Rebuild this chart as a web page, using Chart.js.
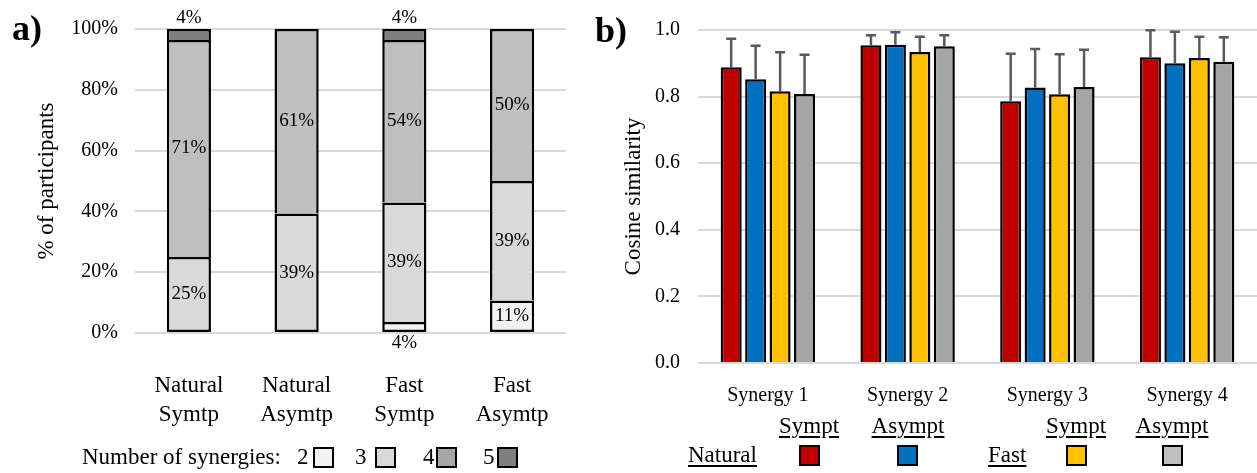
<!DOCTYPE html>
<html>
<head>
<meta charset="utf-8">
<script src="https://cdn.jsdelivr.net/npm/chart.js@4/dist/chart.umd.min.js"></script>
<style>
  body { margin: 0; background: #fff; }
  #wrap { position: relative; width: 1257px; height: 473px; font-family: "Liberation Serif", serif; color: #000; }
  canvas { position: absolute; top: 0; }
  .t { position: absolute; white-space: nowrap; font-size: 23px; line-height: 26px; }
  .c { transform: translateX(-50%); }
  .u { text-decoration: underline; text-decoration-thickness: 1.5px; text-underline-offset: 3px; }
  .panel { position: absolute; font-size: 36px; font-weight: bold; line-height: 36px; }
  .box { position: absolute; width: 21px; height: 21px; border: 2px solid #000; box-sizing: border-box; }
</style>
</head>
<body>
<div id="wrap">
  <canvas id="chartA" width="580" height="473" style="left:0"></canvas>
  <canvas id="chartB" width="677" height="473" style="left:580px"></canvas>

  <div class="panel" style="left:12px; top:10px">a)</div>
  <div class="panel" style="left:595px; top:12px">b)</div>

  <!-- legend a -->
  <div class="t" style="left:82px; top:444px">Number of synergies:</div>
  <div class="t" style="left:297px; top:444px">2</div>
  <div class="box" style="left:313px; top:447px; background:#f2f2f2"></div>
  <div class="t" style="left:355px; top:444px">3</div>
  <div class="box" style="left:375px; top:447px; background:#d9d9d9"></div>
  <div class="t" style="left:423px; top:444px">4</div>
  <div class="box" style="left:436px; top:447px; background:#a6a6a6"></div>
  <div class="t" style="left:483px; top:444px">5</div>
  <div class="box" style="left:497px; top:447px; background:#7f7f7f"></div>

  <!-- legend b -->
  <div class="t c u" style="left:809px; top:413px">Sympt</div>
  <div class="t c u" style="left:908px; top:413px">Asympt</div>
  <div class="t c u" style="left:1076px; top:413px">Sympt</div>
  <div class="t c u" style="left:1172px; top:413px">Asympt</div>
  <div class="t u" style="left:688px; top:442px">Natural</div>
  <div class="t u" style="left:988px; top:442px">Fast</div>
  <div class="box" style="left:799px; top:445px; background:#c00000"></div>
  <div class="box" style="left:897px; top:445px; background:#0070c0"></div>
  <div class="box" style="left:1066px; top:445px; background:#ffc000"></div>
  <div class="box" style="left:1162px; top:445px; background:#bfbfbf"></div>
</div>

<script>
// ---------- panel a: share of participants by number of synergies ----------
const groupsA = [['Natural', 'Symtp'], ['Natural', 'Asymtp'], ['Fast', 'Symtp'], ['Fast', 'Asymtp']];
const syn2 = [0, 0, 3.6, 10.7];
const syn3 = [25.0, 39.3, 39.3, 39.3];
const syn4 = [71.4, 60.7, 53.5, 50.0];
const syn5 = [3.6, 0, 3.6, 0];
const pctTicks = [0, 20, 40, 60, 80, 100];

// ---------- panel b: cosine similarity ----------
const synergies = ['Synergy 1', 'Synergy 2', 'Synergy 3', 'Synergy 4'];
const naturalSympt = [0.888, 0.954, 0.786, 0.918];
const naturalAsympt = [0.852, 0.956, 0.827, 0.900];
const fastSympt = [0.816, 0.934, 0.807, 0.916];
const fastAsympt = [0.808, 0.951, 0.829, 0.905];
const naturalSymptSd = [0.086, 0.030, 0.143, 0.081];
const naturalAsymptSd = [0.101, 0.037, 0.116, 0.095];
const fastSymptSd = [0.117, 0.046, 0.120, 0.064];
const fastAsymptSd = [0.118, 0.033, 0.112, 0.073];

const serif = '"Liberation Serif", serif';
const stacks = [syn2, syn3, syn4, syn5];

// lowest non-empty segment keeps its bottom border
function skipFor(ctx) {
  const j = ctx.dataIndex;
  const first = stacks.findIndex(s => s[j] > 0);
  return ctx.datasetIndex === first ? false : 'start';
}

const segmentLabels = {
  id: 'segmentLabels',
  afterDatasetsDraw(chart) {
    const ctx = chart.ctx;
    ctx.save();
    ctx.font = '19px ' + serif;
    ctx.fillStyle = '#000';
    ctx.textAlign = 'center';
    ctx.textBaseline = 'middle';
    chart.data.datasets.forEach((ds, i) => {
      chart.getDatasetMeta(i).data.forEach((bar, j) => {
        const v = ds.data[j];
        if (!v) return;
        const top = Math.min(bar.y, bar.base), bottom = Math.max(bar.y, bar.base);
        let y = (top + bottom) / 2;
        if (bottom - top < 20) y = i === 0 ? bottom + 11 : top - 11;
        ctx.fillText(Math.round(v) + '%', bar.x, y);
      });
    });
    ctx.restore();
  }
};

new Chart(document.getElementById('chartA'), {
  type: 'bar',
  data: {
    labels: groupsA,
    datasets: [
      { label: '2', data: syn2, backgroundColor: '#f2f2f2' },
      { label: '3', data: syn3, backgroundColor: '#d9d9d9' },
      { label: '4', data: syn4, backgroundColor: '#bfbfbf' },
      { label: '5', data: syn5, backgroundColor: '#7f7f7f' }
    ].map(d => Object.assign(d, {
      borderColor: '#000', borderWidth: 2.5, borderSkipped: skipFor,
      barPercentage: 0.41, categoryPercentage: 1
    }))
  },
  options: {
    responsive: false,
    animation: false,
    devicePixelRatio: 1,
    layout: { padding: { top: 26, right: 12, left: 0, bottom: 0 } },
    plugins: { legend: { display: false }, tooltip: { enabled: false } },
    scales: {
      x: {
        stacked: true,
        grid: { display: false },
        border: { display: false },
        ticks: { color: '#000', padding: 30, font: { family: serif, size: 23, lineHeight: 1.26 }, maxRotation: 0 },
        afterFit(s) { s.height = 140; }
      },
      y: {
        stacked: true,
        min: 0, max: 100,
        afterBuildTicks(s) { s.ticks = pctTicks.map(v => ({ value: v })); },
        grid: { color: '#d9d9d9', lineWidth: 2, drawTicks: false },
        border: { display: false },
        ticks: { color: '#000', padding: 17, font: { family: serif, size: 20 }, callback: v => v + '%' },
        title: { display: true, text: '% of participants', color: '#000', font: { family: serif, size: 23 }, padding: { top: 33, bottom: 0 } },
        afterFit(s) { s.width = 135; }
      }
    }
  },
  plugins: [segmentLabels]
});

// ---------- panel b chart ----------
const errorBars = {
  id: 'errorBars',
  afterDatasetsDraw(chart) {
    const ctx = chart.ctx, yScale = chart.scales.y;
    ctx.save();
    ctx.strokeStyle = '#5a5a5a';
    ctx.lineWidth = 2.5;
    chart.data.datasets.forEach((ds, i) => {
      chart.getDatasetMeta(i).data.forEach((bar, j) => {
        const yTop = yScale.getPixelForValue(ds.data[j] + ds.sd[j]);
        ctx.beginPath();
        ctx.moveTo(bar.x, bar.y);
        ctx.lineTo(bar.x, yTop);
        ctx.moveTo(bar.x - 5, yTop);
        ctx.lineTo(bar.x + 5, yTop);
        ctx.stroke();
      });
    });
    ctx.restore();
  }
};

new Chart(document.getElementById('chartB'), {
  type: 'bar',
  data: {
    labels: synergies,
    datasets: [
      { label: 'Natural Sympt', data: naturalSympt, sd: naturalSymptSd, backgroundColor: '#c00000' },
      { label: 'Natural Asympt', data: naturalAsympt, sd: naturalAsymptSd, backgroundColor: '#0070c0' },
      { label: 'Fast Sympt', data: fastSympt, sd: fastSymptSd, backgroundColor: '#ffc000' },
      { label: 'Fast Asympt', data: fastAsympt, sd: fastAsymptSd, backgroundColor: '#a5a5a5' }
    ].map(d => Object.assign(d, {
      borderColor: '#000', borderWidth: 2.5,
      barPercentage: 0.86, categoryPercentage: 0.70
    }))
  },
  options: {
    responsive: false,
    animation: false,
    devicePixelRatio: 1,
    layout: { padding: { top: 23, right: 0, left: 0, bottom: 0 } },
    plugins: { legend: { display: false }, tooltip: { enabled: false } },
    scales: {
      x: {
        grid: { display: false },
        border: { display: false },
        ticks: { color: '#000', padding: 13, font: { family: serif, size: 20 }, maxRotation: 0 },
        afterFit(s) { s.height = 110; }
      },
      y: {
        min: 0, max: 1,
        ticks: { stepSize: 0.2, color: '#000', padding: 18, font: { family: serif, size: 20 }, callback: v => v.toFixed(1) },
        grid: { color: '#d9d9d9', lineWidth: 2, drawTicks: false },
        border: { display: false },
        title: { display: true, text: 'Cosine similarity', color: '#000', font: { family: serif, size: 23 }, padding: { top: 40, bottom: 0 } },
        afterFit(s) { s.width = 118; }
      }
    }
  },
  plugins: [errorBars]
});
</script>
</body>
</html>
